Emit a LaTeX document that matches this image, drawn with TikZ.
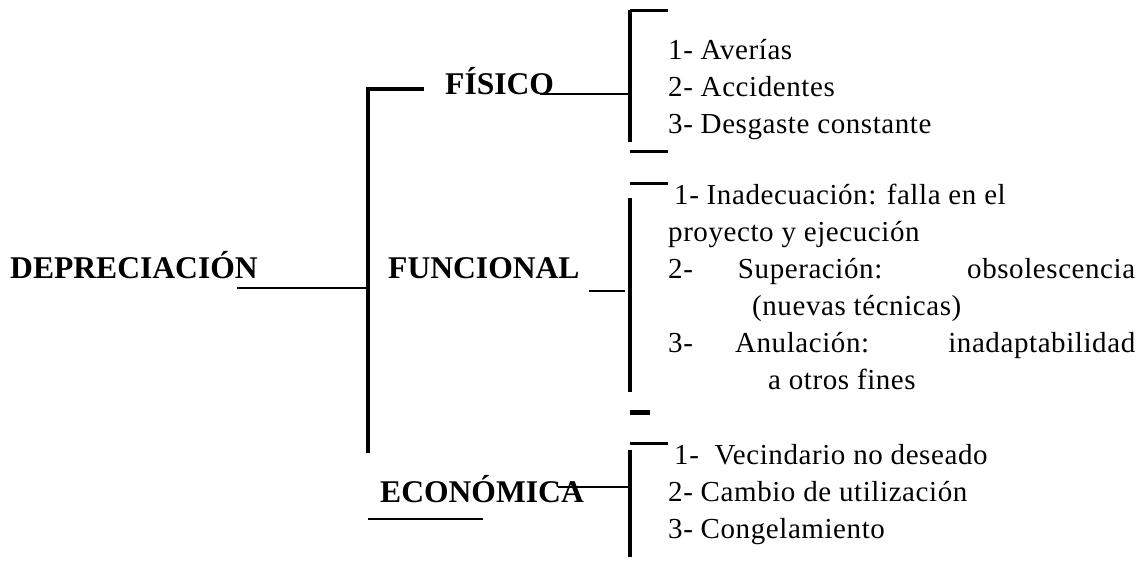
\documentclass[tikz,border=0pt]{standalone}
\usepackage{fontspec}
\setmainfont{Liberation Serif}
\newfontfamily\itemfont[LetterSpace=2]{Liberation Serif}
\begin{document}
\begin{tikzpicture}[x=1pt,y=-1pt,
  lab/.style={font=\bfseries\fontsize{31.6}{36}\selectfont, anchor=base west, inner sep=0pt},
  itm/.style={font=\itemfont\fontsize{29}{36}\selectfont, anchor=base west, inner sep=0pt},
  bar/.style={line width=4.5pt},
  tick/.style={line width=3pt},
  thinl/.style={line width=1.8pt},
  dashmark/.style={line width=5pt}]
\useasboundingbox (0,0) rectangle (1138,564);
% labels
\node[lab] (dep) at (10,278) {DEPRECIACIÓN};
\node[lab] (fis) at (445,95) {FÍSICO};
\node[lab] (fun) at (388,278) {FUNCIONAL};
\node[lab] (eco) at (380,502) {ECONÓMICA};
% items fisico
\node[itm] (f1) at (668,60) {1- Averías};
\node[itm] (f2) at (668,97) {2- Accidentes};
\node[itm] (f3) at (668,134) {3- Desgaste constante};
% items funcional
\node[itm] (u1) at (674,205) {1- Inadecuación: falla en el};
\node[itm] (u1b) at (668,242) {proyecto y ejecución};
\node[itm] (u2) at (668,279) {\makebox[467pt][s]{2- Superación: obsolescencia}};
\node[itm] (u2b) at (752,315) {(nuevas técnicas)};
\node[itm] (u3) at (668,352) {\makebox[467pt][s]{3- Anulación: inadaptabilidad}};
\node[itm] (u3b) at (768,389) {a otros fines};
% items economica
\node[itm] (e1) at (674,464) {1-\ \ Vecindario no deseado};
\node[itm] (e2) at (668,501) {2- Cambio de utilización};
\node[itm] (e3) at (668,538) {3- Congelamiento};
% coordinates
\coordinate (mTopR) at (424,89);
\coordinate (mBot) at (368,453);
\coordinate (depL) at (237,288);
\coordinate (depR) at (368,288);
\coordinate (fisL) at (540,94);
\coordinate (fisR) at (630,94);
\coordinate (fbT) at (630,10);
\coordinate (fbB) at (630,142);
\coordinate (fbTR) at (668,11);
\coordinate (fbTL) at (630,11);
\coordinate (fbBL) at (630,152);
\coordinate (fbBR) at (668,152);
\coordinate (ubTL) at (630,184);
\coordinate (ubTR) at (668,184);
\coordinate (ubT) at (630,198);
\coordinate (ubB) at (630,392);
\coordinate (funL) at (589,291);
\coordinate (funR) at (625,291);
\coordinate (dL) at (630,412);
\coordinate (dR) at (650,412);
\coordinate (ebTL) at (630,443);
\coordinate (ebTR) at (668,443);
\coordinate (ebT) at (630,450);
\coordinate (ebB) at (630,557);
\coordinate (ecoL) at (558,487);
\coordinate (ecoR) at (630,487);
\coordinate (ecoUL) at (368,519);
\coordinate (ecoUR) at (483,519);
% main tree
\draw[bar] (mTopR) -| (mBot);
\draw[thinl] (depL) -- (depR);
% fisico bracket
\draw[thinl] (fisL) -- (fisR);
\draw[bar] (fbT) -- (fbB);
\draw[tick] (fbTL) -- (fbTR);
\draw[tick] (fbBL) -- (fbBR);
% funcional bracket
\draw[tick] (ubTL) -- (ubTR);
\draw[bar] (ubT) -- (ubB);
\draw[line width=2pt] (funL) -- (funR);
\draw[dashmark] (dL) -- (dR);
% economica bracket
\draw[tick] (ebTL) -- (ebTR);
\draw[bar] (ebT) -- (ebB);
\draw[line width=2pt] (ecoL) -- (ecoR);
\draw[line width=2.5pt] (ecoUL) -- (ecoUR);
\end{tikzpicture}
\end{document}
